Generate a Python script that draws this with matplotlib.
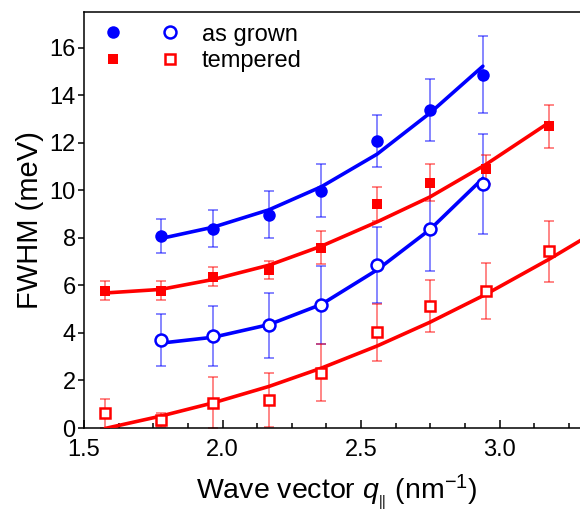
import matplotlib
matplotlib.use("Agg")
import matplotlib.pyplot as plt
from matplotlib.legend_handler import HandlerTuple
from matplotlib.ticker import MultipleLocator

plt.rcParams['font.family'] = ['Liberation Sans', 'DejaVu Sans']
plt.rcParams['mathtext.fontset'] = 'custom'
plt.rcParams['mathtext.rm'] = 'Liberation Sans'
plt.rcParams['mathtext.it'] = 'Liberation Sans:italic'

# ---- data ----
q_blue = [1.777, 1.967, 2.168, 2.357, 2.558, 2.749, 2.940]
grown_filled = [8.08, 8.39, 8.98, 9.99, 12.07, 13.39, 14.87]
grown_filled_err = [0.70, 0.78, 1.00, 1.10, 1.10, 1.30, 1.60]
grown_open = [3.70, 3.87, 4.33, 5.17, 6.85, 8.39, 10.28]
grown_open_err = [1.10, 1.25, 1.37, 1.63, 1.60, 1.80, 2.10]

q_red = [1.576, 1.777, 1.967, 2.168, 2.357, 2.558, 2.749, 2.950, 3.179]
temp_filled = [5.77, 5.77, 6.36, 6.64, 7.59, 9.41, 10.31, 10.88, 12.69]
temp_filled_err = [0.40, 0.40, 0.40, 0.37, 0.70, 0.72, 0.78, 0.60, 0.90]
temp_open = [0.62, 0.34, 1.06, 1.18, 2.32, 4.03, 5.13, 5.77, 7.43]
temp_open_err = [0.60, 0.28, 1.07, 1.12, 1.20, 1.20, 1.10, 1.18, 1.28]

# fit curves
fit_gf_q = [1.777, 1.967, 2.168, 2.357, 2.558, 2.749, 2.940]
fit_gf_y = [7.97, 8.45, 9.18, 10.15, 11.52, 13.25, 15.22]
fit_go_q = [1.777, 1.967, 2.168, 2.357, 2.558, 2.749, 2.940]
fit_go_y = [3.57, 3.82, 4.35, 5.20, 6.65, 8.35, 10.50]
fit_tf_q = [1.576, 1.777, 1.967, 2.168, 2.357, 2.558, 2.749, 2.950, 3.179]
fit_tf_y = [5.68, 5.83, 6.25, 6.85, 7.65, 8.67, 9.72, 11.08, 12.85]
fit_to_q = [1.576, 1.777, 1.967, 2.168, 2.357, 2.558, 2.749, 2.950, 3.179, 3.330]
fit_to_y = [-0.02, 0.50, 1.06, 1.75, 2.52, 3.45, 4.45, 5.62, 7.10, 8.15]

xticks = [1.5, 2.0, 2.5, 3.0]
xticklabels = ['1.5', '2.0', '2.5', '3.0']
yticks = [0, 2, 4, 6, 8, 10, 12, 14, 16]

BLUE = '#0000ff'
RED = '#ff0000'

W, H = 580, 511
fig = plt.figure(figsize=(W / 100, H / 100), dpi=100)
ax = fig.add_axes([84 / W, 83 / H, 506 / W, 416 / H])

# fit lines
for fq, fy, c in [(fit_gf_q, fit_gf_y, BLUE), (fit_go_q, fit_go_y, BLUE),
                  (fit_tf_q, fit_tf_y, RED), (fit_to_q, fit_to_y, RED)]:
    ax.plot(fq, fy, color=c, lw=2.6, zorder=3, solid_joinstyle='round',
            solid_capstyle='round')

eb_kw = dict(linestyle='none', elinewidth=1.1, capsize=3.6, capthick=1.1)

def series(x, y, e, color, marker, filled, ms):
    ax.errorbar(x, y, yerr=e, fmt='none', ecolor=color, alpha=0.6, zorder=2, **eb_kw)
    if filled:
        h, = ax.plot(x, y, linestyle='none', marker=marker, ms=ms, mfc=color, mec=color,
                     mew=0, zorder=4)
    else:
        h, = ax.plot(x, y, linestyle='none', marker=marker, ms=ms, mfc='white', mec=color,
                     mew=1.8, zorder=4)
    return h

h1 = series(q_blue, grown_filled, grown_filled_err, BLUE, 'o', True, 9)
h2 = series(q_blue, grown_open, grown_open_err, BLUE, 'o', False, 8.6)
h3 = series(q_red, temp_filled, temp_filled_err, RED, 's', True, 7.5)
h4 = series(q_red, temp_open, temp_open_err, RED, 's', False, 7.3)

ax.set_xlim(1.5, 1.5 + 506 / 277)
ax.set_ylim(0, 17.5)
ax.set_xticks(xticks)
ax.set_xticklabels(xticklabels)
ax.xaxis.set_minor_locator(MultipleLocator(0.125))
ax.set_yticks(yticks)
ax.tick_params(axis='x', which='major', direction='in', length=6, width=1.1,
               labelsize=17, pad=8)
ax.tick_params(axis='x', which='minor', direction='in', length=3.5, width=1.1)
ax.tick_params(axis='y', which='major', direction='out', length=4.5, width=1.1,
               labelsize=17, pad=1.5)
for s in ['left', 'bottom', 'top']:
    ax.spines[s].set_linewidth(1.1)
ax.spines['right'].set_visible(False)

ax.set_xlabel(r'Wave vector $q_{_{||}}$ (nm$^{-1}$)', fontsize=20.5, labelpad=8)
ax.set_ylabel('FWHM (meV)', fontsize=21, labelpad=4)

leg = ax.legend([(h1, h2), (h3, h4)], ['as grown', 'tempered'],
                handler_map={tuple: HandlerTuple(ndivide=None, pad=0.89)},
                loc='upper left', bbox_to_anchor=(0.0217, 0.972), frameon=False,
                fontsize=17, handlelength=3.93, handletextpad=0.6,
                borderpad=0, borderaxespad=0, labelspacing=0.2)

fig.savefig('out.png', dpi=100)
